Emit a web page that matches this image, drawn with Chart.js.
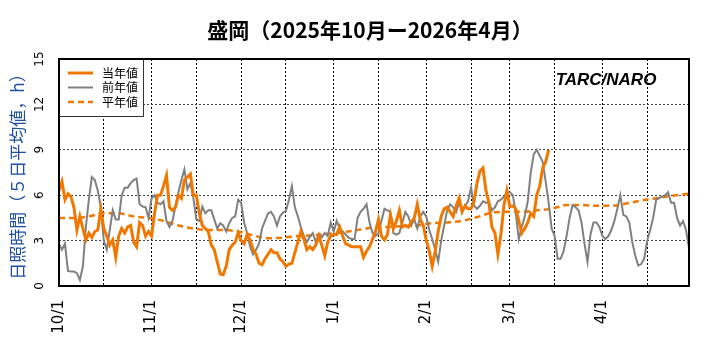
<!DOCTYPE html>
<html>
<head>
<meta charset="utf-8">
<script src="https://cdn.jsdelivr.net/npm/chart.js@4"></script>
<style>
  body { margin: 0; background: #fff; }
</style>
</head>
<body>
<canvas id="myChart" width="720" height="360"></canvas>
<script>
// 5-day mean sunshine hours, Morioka, day 0 = 10/1
var currentValues = [
  6.3, 6.9, 5.7, 6.1, 5.9, 5.2, 3.7, 4.6, 3.8, 3.05,
  3.5, 3.2, 3.6, 3.7, 5.1, 3.8, 3.3, 2.7, 3.05, 1.9,
  3.3, 3.8, 3.5, 3.9, 4.0, 2.9, 2.6, 4.2, 4.0, 3.3,
  3.6, 3.3, 4.8, 6.0, 6.0, 6.6, 7.3, 5.2, 5.0, 5.2,
  6.0, 5.8, 7.0, 7.2, 7.4, 6.0, 6.0, 4.8, 4.0, 3.8,
  3.6, 2.7, 2.4, 1.6, 0.8, 0.75, 1.3, 2.4, 2.7, 2.9,
  3.5, 3.0, 2.8, 3.4, 3.05, 2.4, 2.1, 1.5, 1.4, 1.8,
  2.1, 2.4, 2.2, 2.2, 1.8, 1.6, 1.3, 1.45, 1.5, 2.2,
  2.9, 3.6, 3.1, 2.4, 2.6, 2.4, 2.7, 3.3, 2.7, 2.0,
  2.9, 3.3, 3.4, 3.4, 3.9, 3.3, 2.8, 2.7, 2.6, 2.6,
  2.6, 2.6, 1.9, 2.3, 2.6, 3.1, 3.6, 4.4, 3.3, 3.05,
  3.4, 4.7, 3.8, 4.3, 5.0, 3.9, 4.0, 3.9, 4.2, 4.5,
  5.4, 4.4, 4.0, 3.05, 2.3, 1.3, 2.3, 3.6, 4.6, 5.1,
  5.2, 4.9, 4.6, 5.3, 5.8, 4.9, 5.3, 5.1, 5.1, 5.6,
  6.8, 7.6, 7.8, 6.3, 5.5, 3.9, 3.5, 2.1, 3.4, 5.3,
  6.3, 5.25, 5.3, 5.1, 4.3, 3.5, 3.8, 4.2, 4.8, 4.6,
  6.0, 6.6, 7.8, 8.2, 9.0
];
var previousValues = [
  2.8, 2.4, 2.8, 1.0, 0.95, 0.95, 0.85, 0.4, 1.3, 3.9,
  5.7, 7.2, 7.0, 6.3, 5.2, 3.0, 2.4, 3.7, 5.0, 4.4,
  4.4, 6.0, 6.5, 6.5, 6.8, 7.0, 7.1, 5.4, 5.25, 5.2,
  4.5, 5.8, 6.0, 5.5, 5.4, 5.6, 4.3, 3.9, 4.3, 5.25,
  6.2, 7.0, 7.7, 6.4, 6.8, 5.8, 4.4, 4.3, 5.25, 4.8,
  5.0, 5.0, 4.4, 3.8, 4.15, 4.0, 3.6, 4.15, 4.5, 4.6,
  5.7, 5.5, 4.2, 3.5, 2.6, 2.1, 2.4, 2.8, 3.8, 4.3,
  4.8, 4.9, 4.6, 4.0, 4.6, 4.85, 4.95, 5.7, 6.6, 5.2,
  4.6, 3.9, 3.3, 2.9, 3.25, 3.5, 2.9, 3.45, 3.2, 3.5,
  3.3, 4.2, 3.6, 4.3, 3.8, 3.6, 3.4, 3.2, 3.1, 3.1,
  4.5, 4.9, 5.1, 5.4, 4.2, 3.5, 3.3, 3.5, 4.3, 5.1,
  5.0, 4.9, 3.5, 3.4, 3.5, 4.2, 4.9, 4.6, 4.0, 4.4,
  3.8, 4.6, 4.9, 4.6, 3.7, 3.1, 2.4, 1.6, 3.0, 4.0,
  5.0, 5.4, 5.2, 4.9, 5.5, 5.1, 5.3, 5.6, 6.5, 5.3,
  5.1, 5.3, 5.6, 5.5, 5.5, 5.0, 5.2, 5.6, 5.7, 5.9,
  6.2, 6.2, 6.0, 4.8, 3.1, 3.9, 4.6, 5.6, 7.5, 8.7,
  9.0, 8.6, 8.2, 6.9, 5.5, 3.8, 3.3, 1.8, 1.8, 2.3,
  3.3, 4.5, 5.35, 5.2, 5.0, 4.2, 2.8, 1.6, 3.4, 4.2,
  4.2, 3.9, 3.3, 3.1, 3.3, 3.7, 4.3, 5.1, 6.0, 4.7,
  4.6, 4.2, 2.9, 2.0, 1.35, 1.45, 1.8, 3.0, 3.7, 4.5,
  5.7, 5.8, 5.9, 6.0, 6.2, 5.5, 5.5, 4.5, 4.0, 4.3,
  3.7, 2.5
];
// normal curve read every 5 days
var normalDays = [0, 5, 10, 15, 20, 25, 30, 35, 40, 45, 50, 55, 60, 65, 70, 75, 80, 85, 90, 95,
  100, 105, 110, 115, 120, 125, 130, 135, 140, 145, 150, 155, 160, 165, 170, 175, 180, 185, 190,
  195, 200, 205, 211];
var normalValues = [4.5, 4.5, 4.6, 4.8, 4.8, 4.6, 4.5, 4.3, 4.0, 3.8, 3.7, 3.7, 3.6, 3.35, 3.15,
  3.2, 3.3, 3.35, 3.45, 3.55, 3.7, 3.85, 3.9, 3.95, 4.0, 4.15, 4.2, 4.3, 4.55, 4.85, 4.9, 4.9,
  5.0, 5.1, 5.35, 5.35, 5.3, 5.3, 5.45, 5.65, 5.8, 5.95, 6.1];

var monthDays = [0, 31, 61, 92, 123, 151, 182];
var monthLabels = ['10/1', '11/1', '12/1', '1/1', '2/1', '3/1', '4/1'];
var gridDays = [0, 15, 31, 46, 61, 76, 92, 107, 123, 138, 151, 166, 182, 197];
var yTicks = [0, 3, 6, 9, 12, 15];

var titleText = '盛岡（2025年10月ー2026年4月）';
var yTitle = '日照時間（５日平均値，h）';
var orange = '#f07800';
var gray = '#808080';

var days = [];
for (var i = 0; i < previousValues.length; i++) {
  days.push(i);
}

var extras = {
  id: 'extras',
  afterDatasetsDraw: function(chart) {
    var ctx = chart.ctx;
    var a = chart.chartArea;
    ctx.save();
    // legend box
    var bx = a.left, by = a.top, bw = 84, bh = 57;
    ctx.fillStyle = '#fff';
    ctx.fillRect(bx, by, bw, bh);
    ctx.strokeStyle = '#333';
    ctx.lineWidth = 1;
    ctx.strokeRect(bx + 0.5, by + 0.5, bw, bh);
    var rows = [
      { text: '当年値', color: orange, width: 3, dash: [] },
      { text: '前年値', color: gray, width: 2, dash: [] },
      { text: '平年値', color: orange, width: 2.5, dash: [6, 4] }
    ];
    ctx.font = '12px "Noto Sans CJK JP"';
    ctx.textBaseline = 'middle';
    ctx.textAlign = 'left';
    rows.forEach(function(r, k) {
      var y = by + 14 + k * 14.5;
      ctx.beginPath();
      ctx.setLineDash(r.dash);
      ctx.strokeStyle = r.color;
      ctx.lineWidth = r.width;
      ctx.moveTo(bx + 9, y);
      ctx.lineTo(bx + 34, y);
      ctx.stroke();
      ctx.setLineDash([]);
      ctx.fillStyle = '#000';
      ctx.fillText(r.text, bx + 43, y);
    });
    // watermark
    ctx.font = 'italic bold 17px "Liberation Sans"';
    ctx.textAlign = 'center';
    ctx.fillStyle = '#000';
    ctx.fillText('TARC/NARO', 606, 80);
    // frame
    ctx.strokeStyle = '#000';
    ctx.lineWidth = 2;
    ctx.strokeRect(a.left, a.top, a.right - a.left, a.bottom - a.top);
    // title
    ctx.font = 'bold 21px "Noto Sans CJK JP"';
    ctx.textAlign = 'center';
    ctx.textBaseline = 'middle';
    ctx.fillText(titleText, 370, 30);
    ctx.restore();
  }
};

new Chart('myChart', {
  type: 'line',
  data: {
    labels: days,
    datasets: [
      {
        label: '当年値',
        data: currentValues,
        borderColor: orange,
        borderWidth: 3,
        pointRadius: 0,
        order: 1
      },
      {
        label: '前年値',
        data: previousValues,
        borderColor: gray,
        borderWidth: 2,
        pointRadius: 0,
        order: 2
      },
      {
        label: '平年値',
        data: normalDays.map(function(d, k) { return { x: d, y: normalValues[k] }; }),
        borderColor: orange,
        borderWidth: 2.5,
        borderDash: [6, 4],
        cubicInterpolationMode: 'monotone',
        pointRadius: 0,
        order: 3
      }
    ]
  },
  options: {
    responsive: false,
    animation: false,
    devicePixelRatio: 1,
    layout: { padding: { top: 59, right: 31, left: 0, bottom: 0 } },
    plugins: {
      legend: { display: false },
      tooltip: { enabled: false },
      title: { display: false }
    },
    scales: {
      x: {
        type: 'linear',
        min: 0,
        max: 211,
        afterBuildTicks: function(s) {
          s.ticks = gridDays.map(function(v) { return { value: v }; });
        },
        afterFit: function(s) { s.height = 74; },
        ticks: {
          autoSkip: false,
          minRotation: 90,
          maxRotation: 90,
          padding: 14,
          color: '#000',
          font: { family: 'DejaVu Sans', size: 15 },
          callback: function(v) {
            var k = monthDays.indexOf(v);
            return k >= 0 ? monthLabels[k] : '';
          }
        },
        grid: { color: '#000', lineWidth: 1, drawTicks: false },
        border: { display: false, dash: [2, 2] }
      },
      y: {
        min: 0,
        max: 15,
        afterBuildTicks: function(s) {
          s.ticks = yTicks.map(function(v) { return { value: v }; });
        },
        afterFit: function(s) { s.width = 59; },
        ticks: {
          minRotation: 90,
          maxRotation: 90,
          crossAlign: 'center',
          padding: 11,
          color: '#000',
          font: { family: 'DejaVu Sans', size: 12 }
        },
        grid: { color: '#444', lineWidth: 1, drawTicks: false },
        border: { display: false, dash: [2, 2] },
        title: {
          display: true,
          text: yTitle,
          color: '#1f50a0',
          font: { family: 'Noto Sans CJK JP', size: 17 },
          padding: { top: 7, bottom: 0 }
        }
      }
    }
  },
  plugins: [extras]
});
</script>
</body>
</html>
